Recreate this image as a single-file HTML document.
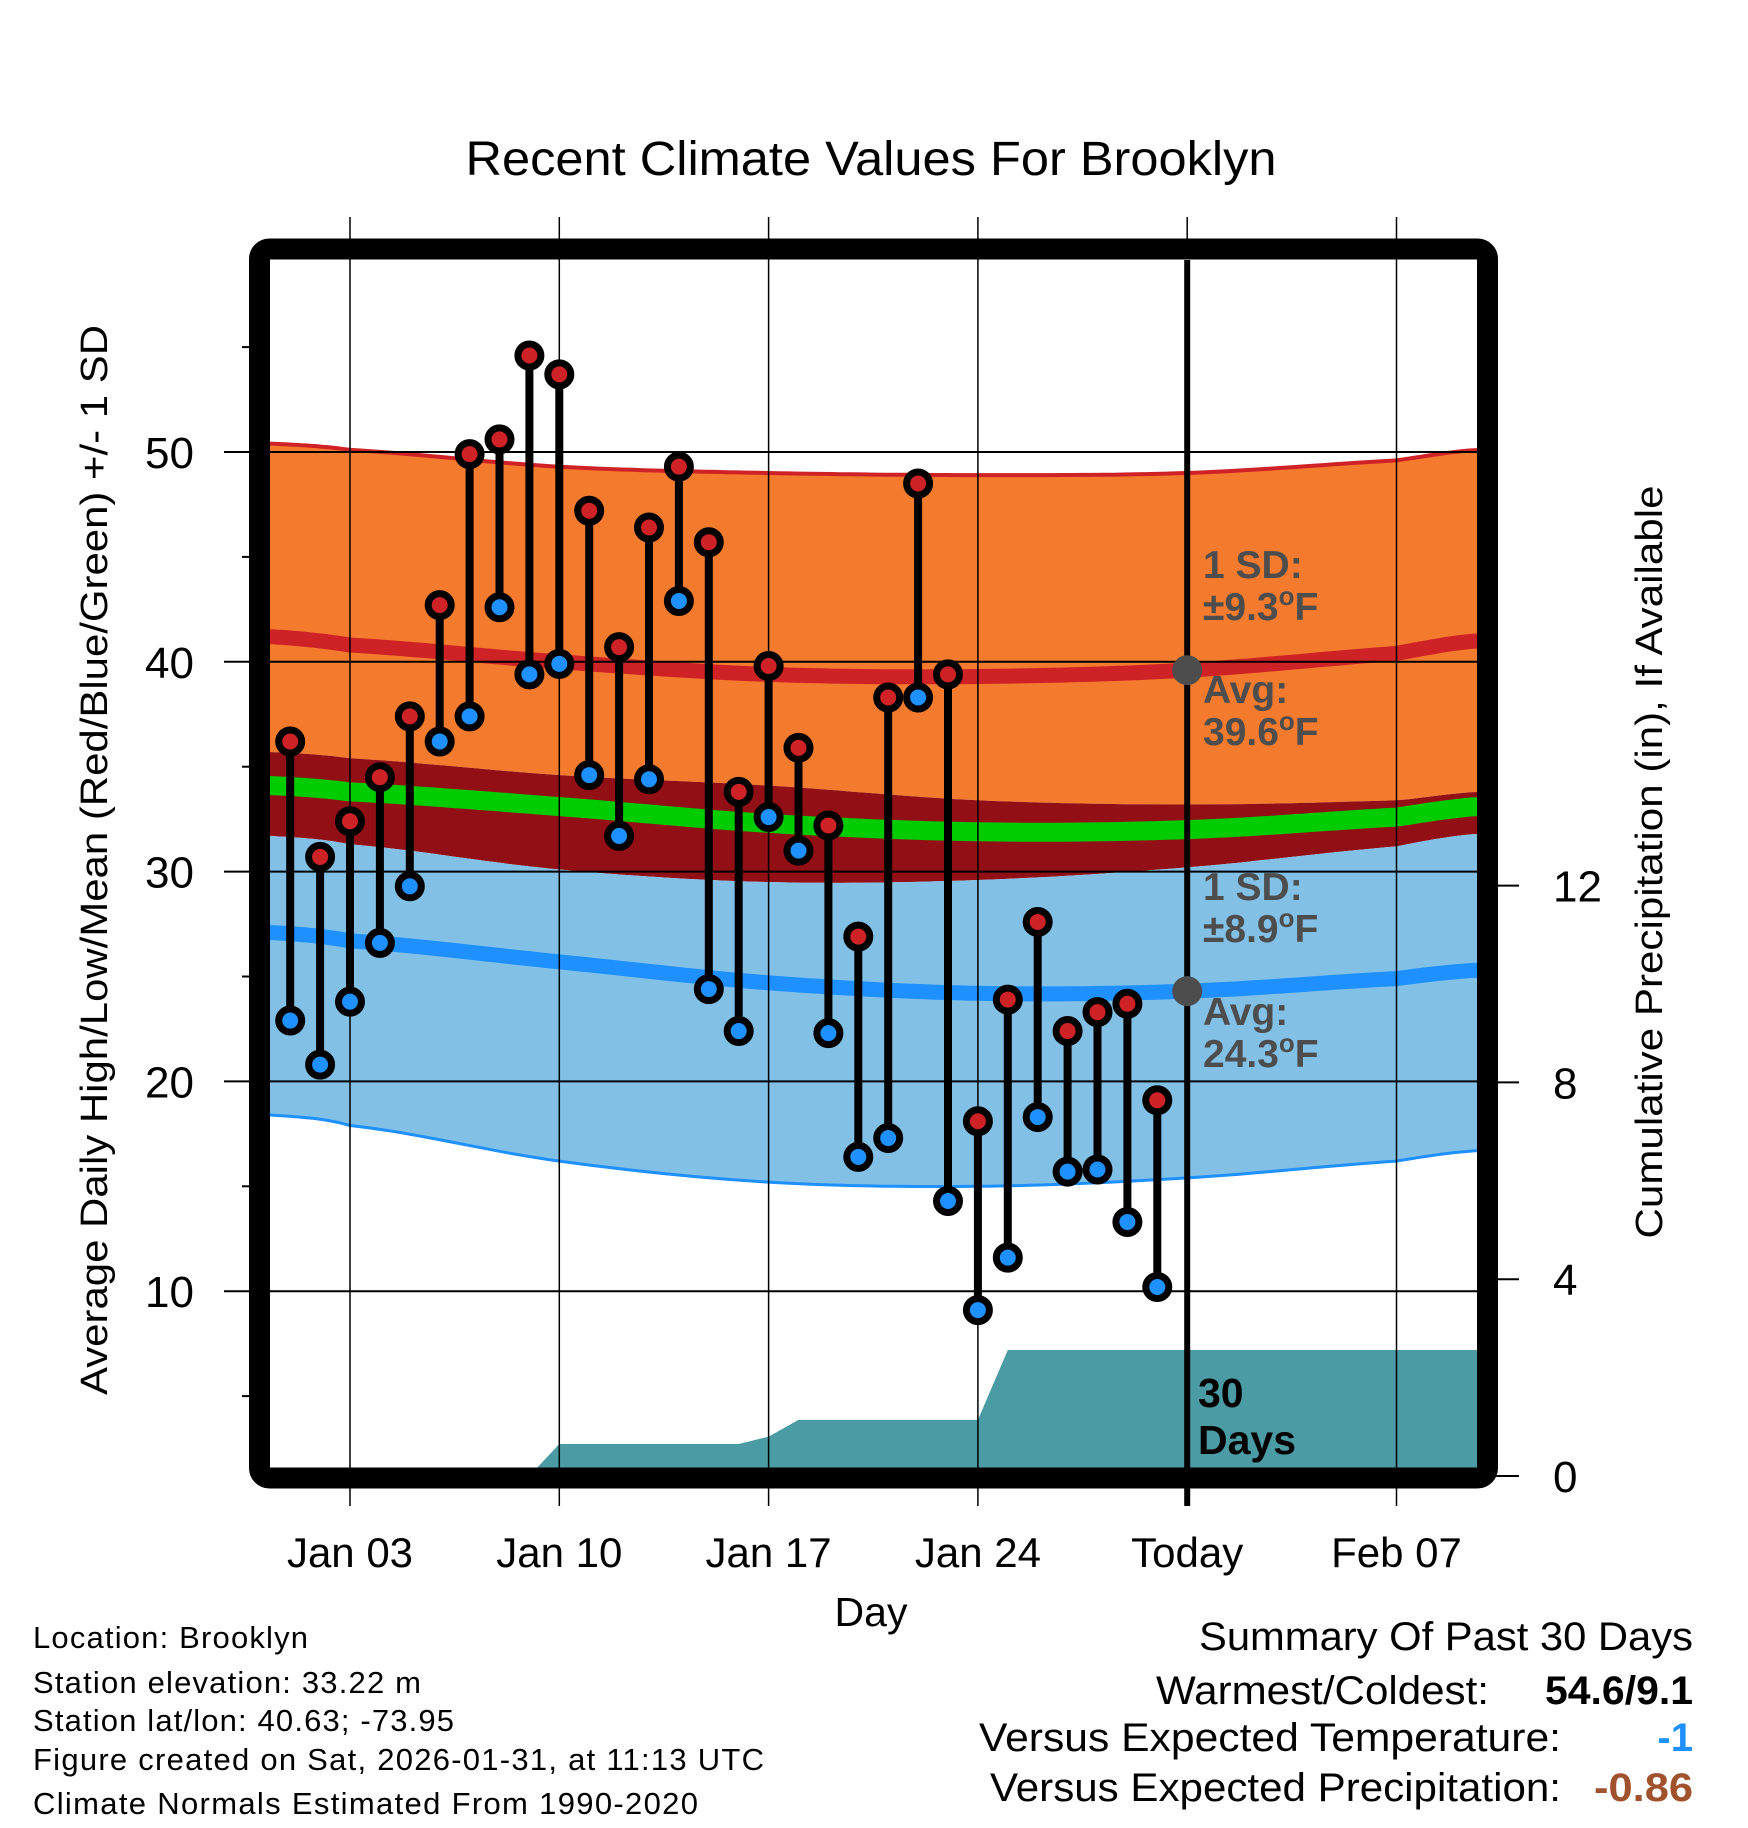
<!DOCTYPE html>
<html><head><meta charset="utf-8"><style>
html,body{margin:0;padding:0;background:#fff}
svg{display:block;font-family:"Liberation Sans",Arial,sans-serif}
</style></head><body>
<svg id="chart" width="1748" height="1828" viewBox="0 0 1748 1828" xmlns="http://www.w3.org/2000/svg">
<defs><clipPath id="plotclip"><rect x="270" y="260" width="1208" height="1208"/></clipPath></defs>
<text x="871" y="175" font-size="48" text-anchor="middle" textLength="811" lengthAdjust="spacingAndGlyphs">Recent Climate Values For Brooklyn</text>
<g id="bands" clip-path="url(#plotclip)"></g>
<g id="precip" clip-path="url(#plotclip)"></g>
<g id="grid"></g>
<g id="marks"></g>
<g id="labels" font-weight="bold" font-size="39" fill="#4d4d4d">
<text x="1203" y="578">1 SD:</text>
<text x="1203" y="620">±9.3<tspan font-size="26" dy="-15">o</tspan><tspan dy="15">F</tspan></text>
<text x="1203" y="703">Avg:</text>
<text x="1203" y="745">39.6<tspan font-size="26" dy="-15">o</tspan><tspan dy="15">F</tspan></text>
<text x="1203" y="900">1 SD:</text>
<text x="1203" y="942">±8.9<tspan font-size="26" dy="-15">o</tspan><tspan dy="15">F</tspan></text>
<text x="1203" y="1025">Avg:</text>
<text x="1203" y="1067">24.3<tspan font-size="26" dy="-15">o</tspan><tspan dy="15">F</tspan></text>
<text x="1198" y="1407" fill="#000" font-size="41">30</text>
<text x="1198" y="1454" fill="#000" font-size="41">Days</text>
</g>
<rect x="259.5" y="249" width="1228" height="1229" rx="10" fill="none" stroke="#000" stroke-width="21"/>
<g id="axes"></g>
<text transform="translate(107,860) rotate(-90)" font-size="38" text-anchor="middle" textLength="1070" lengthAdjust="spacingAndGlyphs">Average Daily High/Low/Mean (Red/Blue/Green) +/- 1 SD</text>
<text transform="translate(1662,862) rotate(-90)" font-size="38" text-anchor="middle" textLength="753" lengthAdjust="spacingAndGlyphs">Cumulative Precipitation (in), If Available</text>
<text x="871" y="1626" font-size="41" text-anchor="middle">Day</text>
<g font-size="31" lengthAdjust="spacingAndGlyphs">
<text x="33" y="1648" textLength="275">Location: Brooklyn</text>
<text x="33" y="1693" textLength="388">Station elevation: 33.22 m</text>
<text x="33" y="1731" textLength="421">Station lat/lon: 40.63; -73.95</text>
<text x="33" y="1770" textLength="731">Figure created on Sat, 2026-01-31, at 11:13 UTC</text>
<text x="33" y="1814" textLength="665">Climate Normals Estimated From 1990-2020</text>
</g>
<g font-size="40" text-anchor="end">
<text x="1693" y="1650" textLength="494" lengthAdjust="spacingAndGlyphs">Summary Of Past 30 Days</text>
<text x="1489" y="1704" textLength="333" lengthAdjust="spacingAndGlyphs">Warmest/Coldest:</text>
<text x="1693" y="1704" font-weight="bold" textLength="148" lengthAdjust="spacingAndGlyphs">54.6/9.1</text>
<text x="1561" y="1751" textLength="582" lengthAdjust="spacingAndGlyphs">Versus Expected Temperature:</text>
<text x="1693" y="1751" font-weight="bold" fill="#1e90ff">-1</text>
<text x="1561" y="1801" textLength="571" lengthAdjust="spacingAndGlyphs">Versus Expected Precipitation:</text>
<text x="1693" y="1801" font-weight="bold" fill="#a0522d" textLength="99" lengthAdjust="spacingAndGlyphs">-0.86</text>
</g>
</svg>
<script>
const days = [1,2,3,4,5,6,7,8,9,10,11,12,13,14,15,16,17,18,19,20,21,22,23,24,25,26,27,28,29,30];
const highs = [36.2,30.7,32.4,34.5,37.4,42.7,49.9,50.6,54.6,53.7,47.2,40.7,46.4,49.3,45.7,33.8,39.8,35.9,32.2,26.9,38.3,48.5,39.4,18.1,23.9,27.6,22.4,23.3,23.7,19.1];
const lows = [22.9,20.8,23.8,26.6,29.3,36.2,37.4,42.6,39.4,39.9,34.6,31.7,34.4,42.9,24.4,22.4,32.6,31.0,22.3,16.4,17.3,38.3,14.3,9.1,11.6,18.3,15.7,15.8,13.3,10.2];
const precip = [0,0,0,0,0,0,0,0,0,0.65,0.65,0.65,0.65,0.65,0.65,0.65,0.8,1.14,1.14,1.14,1.14,1.14,1.14,1.14,2.56,2.56,2.56,2.56,2.56,2.56];
const normDays = [0.3,3,10,17,24,31,38,40.7];
const highPlus = [50.4,50.1,49.3,49.0,48.9,49.0,49.6,50.1];
const highMean = [41.2,40.8,40.0,39.4,39.3,39.6,40.4,41.0];
const highMinus = [35.7,35.4,34.6,34.1,33.4,33.2,33.4,33.8];
const meanT = [34.1,33.8,33.1,32.3,31.9,32.0,32.6,33.1];
const lowPlus = [31.7,31.3,30.1,29.5,29.6,30.2,31.2,31.8];
const lowMean = [27.1,26.7,25.7,24.7,24.2,24.3,24.9,25.3];
const lowMinus = [18.4,17.9,16.2,15.2,15.0,15.4,16.2,16.7];
const tempTicks = [10,20,30,40,50];
const precipTicks = [0,4,8,12];
const xTickDays = [3,10,17,24,31,38];
const xTickLabels = ["Jan 03","Jan 10","Jan 17","Jan 24","Today","Feb 07"];
const todayDay = 31;
const todayHigh = 39.6, todayLow = 24.3;

const NS = "http://www.w3.org/2000/svg";
const X = d => 350 + (d - 3) * 29.9;
const Y = v => 452 + (50 - v) * 20.98;
const P = p => 1476 - p * 49.2;
function mk(tag, attrs, parent){const e=document.createElementNS(NS,tag);for(const k in attrs)e.setAttribute(k,attrs[k]);parent.appendChild(e);return e;}
function smooth(vals){
  const pts=[];
  for(let i=0;i<normDays.length-1;i++){
    const p0=vals[Math.max(i-1,0)],p1=vals[i],p2=vals[i+1],p3=vals[Math.min(i+2,vals.length-1)];
    const d1=normDays[i],d2=normDays[i+1];
    for(let s=0;s<20;s++){const t=s/20;
      const v=0.5*((2*p1)+(-p0+p2)*t+(2*p0-5*p1+4*p2-p3)*t*t+(-p0+3*p1-3*p2+p3)*t*t*t);
      pts.push([X(d1+(d2-d1)*t),Y(v)]);}
  }
  pts.push([X(normDays[normDays.length-1])+10,Y(vals[vals.length-1])]);
  return pts;
}
function lineD(pts){return "M"+pts.map(p=>p[0].toFixed(1)+","+p[1].toFixed(1)).join("L");}
function bandD(a,b){return lineD(a)+"L"+b.slice().reverse().map(p=>p[0].toFixed(1)+","+p[1].toFixed(1)).join("L")+"Z";}

const bands=document.getElementById("bands");
const hp=smooth(highPlus),hm=smooth(highMean),hn=smooth(highMinus),mt=smooth(meanT),lp=smooth(lowPlus),lm=smooth(lowMean),ln=smooth(lowMinus);
let e;
e=mk("path",{d:bandD(hp,hn),fill:"#f47a2d"},bands);


e=mk("path",{d:bandD(hn,lp),fill:"#930f16"},bands);


e=mk("path",{d:bandD(lp,ln),fill:"#82c0e6"},bands);


e=mk("path",{d:lineD(hp),fill:"none",stroke:"#cf2226","stroke-width":4},bands);


e=mk("path",{d:lineD(hm),fill:"none",stroke:"#cf2226","stroke-width":15},bands);


e=mk("path",{d:lineD(mt),fill:"none",stroke:"#00cc00","stroke-width":19},bands);


e=mk("path",{d:lineD(lm),fill:"none",stroke:"#1e90ff","stroke-width":15},bands);


e=mk("path",{d:lineD(ln),fill:"none",stroke:"#1e90ff","stroke-width":3},bands);



const pg=document.getElementById("precip");
let pd="M"+X(days[0])+","+P(0);
days.forEach((d,i)=>{pd+="L"+X(d).toFixed(1)+","+P(precip[i]).toFixed(1);});
pd+="L1485,"+P(precip[precip.length-1]).toFixed(1)+"L1485,"+P(0)+"Z";
e=mk("path",{d:pd,fill:"#4a9ba4"},pg);



const grid=document.getElementById("grid");
tempTicks.forEach(v=>{
  e=mk("line",{x1:224,x2:1485,y1:Y(v),y2:Y(v),stroke:"#000","stroke-width":2},grid);
  
  
});
xTickDays.forEach(d=>{
  const isToday=d===todayDay;
  e=mk("line",{x1:X(d),x2:X(d),y1:isToday?260:217,y2:1506,stroke:"#000","stroke-width":isToday?6:1.5},grid);
  
  
  if(isToday){
    e=mk("line",{x1:X(d),x2:X(d),y1:217,y2:240,stroke:"#000","stroke-width":1.5},grid);
    
    
  }
});

const marks=document.getElementById("marks");
days.forEach((d,i)=>{
  e=mk("line",{x1:X(d),x2:X(d),y1:Y(highs[i]),y2:Y(lows[i]),stroke:"#000","stroke-width":8},marks);
  
  
});
days.forEach((d,i)=>{
  e=mk("circle",{cx:X(d),cy:Y(lows[i]),r:11.5,fill:"#1e90ff",stroke:"#000","stroke-width":7},marks);
  
  
  e=mk("circle",{cx:X(d),cy:Y(highs[i]),r:11.5,fill:"#cf2226",stroke:"#000","stroke-width":7},marks);
  
  
});
e=mk("circle",{cx:X(todayDay),cy:Y(todayHigh),r:15,fill:"#4d4d4d"},marks);


e=mk("circle",{cx:X(todayDay),cy:Y(todayLow),r:15,fill:"#4d4d4d"},marks);



const axes=document.getElementById("axes");
tempTicks.forEach(v=>{
  e=mk("text",{x:194,y:Y(v)+16,"font-size":44,"text-anchor":"end"},axes);
  e.textContent=v;
  
  
});
[5,15,25,35,45,55].forEach(v=>{
  e=mk("line",{x1:242,x2:252,y1:Y(v),y2:Y(v),stroke:"#000","stroke-width":2},axes);
  
  
});
precipTicks.forEach(p=>{
  e=mk("line",{x1:1495,x2:1519,y1:P(p),y2:P(p),stroke:"#000","stroke-width":2},axes);
  
  
  e=mk("text",{x:1553,y:P(p)+16,"font-size":44},axes);
  e.textContent=p;
  
  
});
xTickDays.forEach((d,i)=>{
  e=mk("text",{x:X(d),y:1567,"font-size":42,"text-anchor":"middle"},axes);
  e.textContent=xTickLabels[i];
  
  
});
</script>
</body></html>
